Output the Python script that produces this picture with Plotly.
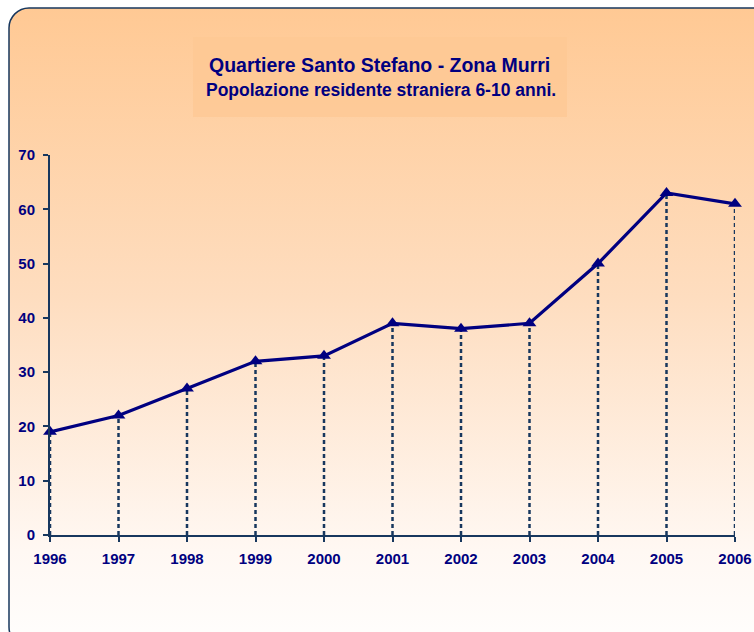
import base64
import plotly.graph_objects as go

years = [1996, 1997, 1998, 1999, 2000, 2001, 2002, 2003, 2004, 2005, 2006]
values = [19, 22, 27, 32, 33, 39, 38, 39, 50, 63, 61]
y_ticks = [0, 10, 20, 30, 40, 50, 60, 70]
title_text = "Quartiere Santo Stefano - Zona Murri"
subtitle_text = "Popolazione residente straniera 6-10 anni."

W, H = 754, 632
L, R, T, B = 50, 735, 155, 535
pw, ph = R - L, B - T

# background panel (pixel coords)
bx0, by0, bx1, by1 = 8, 7, 775, 648
bw, bh = bx1 - bx0, by1 - by0
tb = (193 - bx0, 37 - by0, 567 - 193, 117 - 37)
svg = f'''<svg xmlns="http://www.w3.org/2000/svg" width="{bw}" height="{bh}" viewBox="0 0 {bw} {bh}" preserveAspectRatio="none">
<defs><linearGradient id="g" x1="0" y1="0" x2="0" y2="1">
<stop offset="0" stop-color="#FFC994"/>
<stop offset="0.45" stop-color="#FEDDBF"/>
<stop offset="0.85" stop-color="#FFF8F3"/>
<stop offset="1" stop-color="#FFFEFD"/>
</linearGradient></defs>
<rect x="1" y="1" width="{bw-2}" height="{bh-2}" rx="20" ry="20" fill="url(#g)" stroke="#17375E" stroke-width="1.5"/>
<rect x="{tb[0]}" y="{tb[1]}" width="{tb[2]}" height="{tb[3]}" fill="#FEC793" opacity="0.7"/>
</svg>'''
src = "data:image/svg+xml;base64," + base64.b64encode(svg.encode()).decode()

def px2x(p):
    return (p - L) / pw

def py2y(p):
    return (B - p) / ph

fig = go.Figure()

# drop lines
dx, dy = [], []
for x, v in zip(years, values):
    dx += [x, x, None]
    dy += [0, v, None]
fig.add_trace(go.Scatter(x=dx, y=dy, mode="lines", line=dict(color="#17375E", width=2.5, dash="4px,3px"),
                         hoverinfo="skip", showlegend=False, cliponaxis=False))

fig.add_trace(go.Scatter(x=years, y=values, mode="lines+markers",
                         line=dict(color="#000080", width=3.2),
                         marker=dict(symbol="triangle-up", size=12, color="#000080"),
                         showlegend=False, cliponaxis=False))

font_axis = dict(family="Liberation Sans, Arial, sans-serif", size=15, color="#000080")

fig.update_layout(
    width=W, height=H,
    margin=dict(l=L, r=W - R, t=T, b=H - B, pad=0, autoexpand=False),
    paper_bgcolor="white",
    plot_bgcolor="rgba(0,0,0,0)",
    images=[dict(source=src, xref="paper", yref="paper", x=px2x(bx0), y=py2y(by0),
                 sizex=bw / pw, sizey=bh / ph, sizing="stretch", xanchor="left", yanchor="top",
                 layer="below")],
    xaxis=dict(range=[1996, 2006], tickmode="array", tickvals=years, ticktext=[f"<b>{y}</b>" for y in years],
               showgrid=False, zeroline=False, showline=True, linecolor="#17375E", linewidth=2,
               ticks="outside", ticklen=5, tickwidth=2, tickcolor="#17375E", tickfont=font_axis,
               ticklabelstandoff=4, automargin=False),
    yaxis=dict(range=[0, 70], tickmode="array", tickvals=y_ticks, ticktext=[f"<b>{t}</b>" for t in y_ticks],
               showgrid=False, zeroline=False, showline=True, linecolor="#17375E", linewidth=2,
               ticks="outside", ticklen=5, tickwidth=2, tickcolor="#17375E", tickfont=font_axis,
               ticklabelstandoff=5, automargin=False),
    annotations=[
        dict(text=f"<b>{title_text}</b>", xref="paper", yref="paper", x=px2x(379), y=py2y(52),
             showarrow=False, font=dict(family="Liberation Sans, Arial, sans-serif", size=19.5, color="#000080")),
        dict(text=f"<b>{subtitle_text}</b>", xref="paper", yref="paper", x=px2x(380.5), y=py2y(78),
             showarrow=False, font=dict(family="Liberation Sans, Arial, sans-serif", size=17.5, color="#000080")),
    ],
)

fig.write_html(
    "out.html",
    config={"displayModeBar": False},
    post_script="document.body.style.margin='0';document.body.style.overflow='hidden';"
                "document.documentElement.style.overflow='hidden';",
)
